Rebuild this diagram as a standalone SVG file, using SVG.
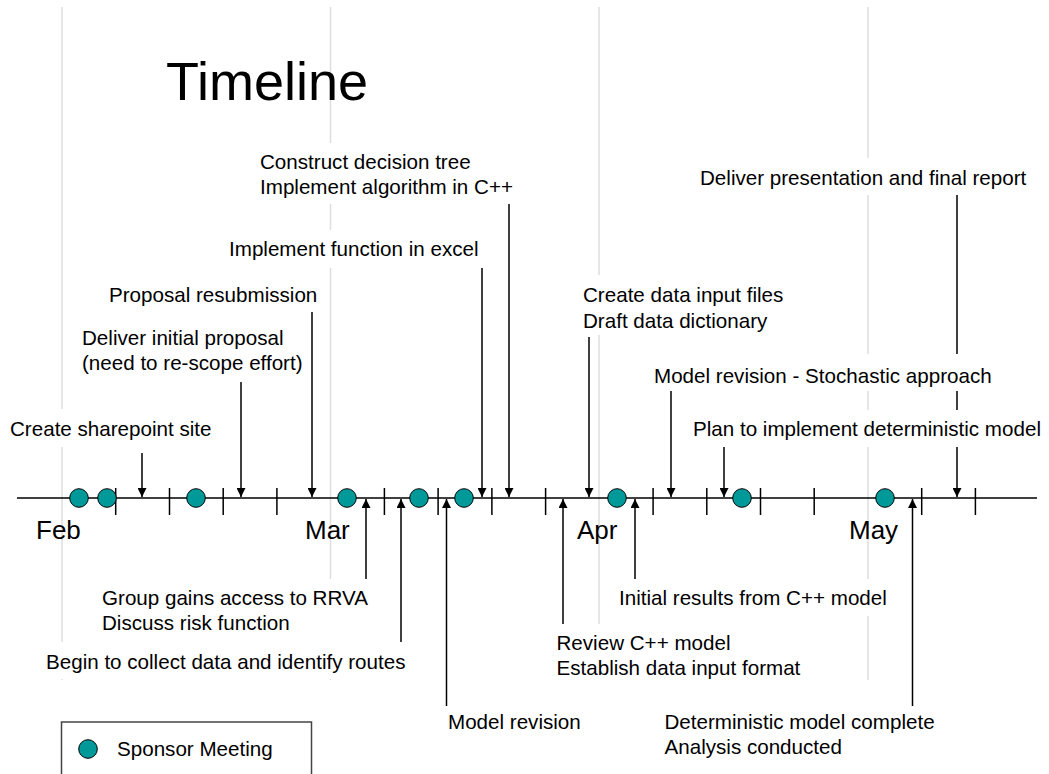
<svg xmlns="http://www.w3.org/2000/svg" width="1049" height="774" viewBox="0 0 1049 774">
<defs>
<style>
text{font-family:"Liberation Sans",Arial,sans-serif;fill:#000}
.lbl{font-size:20.6px}
.mon{font-size:26px}
.title{font-size:54px}
.grid{stroke:#dedede;stroke-width:1.5}
.axis{stroke:#000;stroke-width:1.5;fill:none}
.tick{stroke:#000;stroke-width:1.5}
.arr{stroke:#000;stroke-width:1.5;fill:none}
.dn{marker-end:url(#ah)}
.up{marker-end:url(#ah)}
.box{fill:#fff;stroke:none}
.mtg{fill:#009999;stroke:#000;stroke-width:1}
</style>
<marker id="ah" viewBox="0 0 10 10" refX="10" refY="5" markerWidth="6" markerHeight="6" orient="auto" markerUnits="strokeWidth">
<path d="M0,0 L10,5 L0,10 z" fill="#000"/>
</marker>
</defs>
<rect width="1049" height="774" fill="#fff"/>
<g id="gridlines">
<line class="grid" x1="62" y1="7" x2="62" y2="680"/>
<line class="grid" x1="330.5" y1="7" x2="330.5" y2="680"/>
<line class="grid" x1="599" y1="7" x2="599" y2="680"/>
<line class="grid" x1="868" y1="7" x2="868" y2="680"/>
</g>
<g id="title"><text class="title" x="166" y="100">Timeline</text></g>
<g id="connectors">
<line class="axis" x1="17" y1="498" x2="1037" y2="498"/>
<g id="ticks">
<line class="tick" x1="115.7" y1="488" x2="115.7" y2="515"/>
<line class="tick" x1="169.5" y1="488" x2="169.5" y2="515"/>
<line class="tick" x1="223.2" y1="488" x2="223.2" y2="515"/>
<line class="tick" x1="276.9" y1="488" x2="276.9" y2="515"/>
<line class="tick" x1="384.4" y1="488" x2="384.4" y2="515"/>
<line class="tick" x1="438.1" y1="488" x2="438.1" y2="515"/>
<line class="tick" x1="491.9" y1="488" x2="491.9" y2="515"/>
<line class="tick" x1="545.6" y1="488" x2="545.6" y2="515"/>
<line class="tick" x1="653.1" y1="488" x2="653.1" y2="515"/>
<line class="tick" x1="706.8" y1="488" x2="706.8" y2="515"/>
<line class="tick" x1="760.5" y1="488" x2="760.5" y2="515"/>
<line class="tick" x1="814.2" y1="488" x2="814.2" y2="515"/>
<line class="tick" x1="921.7" y1="488" x2="921.7" y2="515"/>
<line class="tick" x1="975.4" y1="488" x2="975.4" y2="515"/>
</g>
<line class="arr dn" x1="142" y1="453" x2="142" y2="497"/>
<line class="arr dn" x1="241" y1="382" x2="241" y2="497"/>
<line class="arr dn" x1="312" y1="312" x2="312" y2="497"/>
<line class="arr dn" x1="482" y1="268" x2="482" y2="497"/>
<line class="arr dn" x1="509" y1="204" x2="509" y2="497"/>
<line class="arr dn" x1="589" y1="337" x2="589" y2="497"/>
<line class="arr dn" x1="671" y1="391" x2="671" y2="497"/>
<line class="arr dn" x1="724" y1="447" x2="724" y2="497"/>
<line class="arr dn" x1="957" y1="195" x2="957" y2="497"/>
<line class="arr up" x1="366" y1="579" x2="366" y2="499"/>
<line class="arr up" x1="401" y1="643" x2="401" y2="499"/>
<line class="arr up" x1="446.5" y1="706" x2="446.5" y2="499"/>
<line class="arr up" x1="563" y1="624" x2="563" y2="499"/>
<line class="arr up" x1="635" y1="579" x2="635" y2="499"/>
<line class="arr up" x1="912.5" y1="706" x2="912.5" y2="499"/>
</g>
<g id="meetings">
<circle class="mtg" cx="79" cy="498" r="9.3"/>
<circle class="mtg" cx="107" cy="498" r="9.3"/>
<circle class="mtg" cx="196" cy="498" r="9.3"/>
<circle class="mtg" cx="347" cy="498" r="9.3"/>
<circle class="mtg" cx="419" cy="498" r="9.3"/>
<circle class="mtg" cx="464" cy="498" r="9.3"/>
<circle class="mtg" cx="617" cy="498" r="9.3"/>
<circle class="mtg" cx="742" cy="498" r="9.3"/>
<circle class="mtg" cx="885" cy="498" r="9.3"/>
</g>
<g id="months">
<text class="mon" x="36" y="539">Feb</text>
<text class="mon" x="305" y="539">Mar</text>
<text class="mon" x="577" y="539">Apr</text>
<text class="mon" x="849" y="539">May</text>
</g>
<g id="n-sharepoint"><rect class="box" x="5" y="409" width="210" height="38"/><text class="lbl" x="10" y="436">Create sharepoint site</text></g>
<g id="n-initial"><rect class="box" x="78" y="318" width="228" height="62"/><text class="lbl" x="82" y="345">Deliver initial proposal</text><text class="lbl" x="82" y="370">(need to re-scope effort)</text></g>
<g id="n-resub"><rect class="box" x="105" y="275" width="214" height="37"/><text class="lbl" x="109" y="302">Proposal resubmission</text></g>
<g id="n-excel"><rect class="box" x="226" y="230" width="255" height="38"/><text class="lbl" x="229" y="256">Implement function in excel</text></g>
<g id="n-tree"><rect class="box" x="255" y="143" width="265" height="61"/><text class="lbl" x="260" y="168.5">Construct decision tree</text><text class="lbl" x="260" y="194">Implement algorithm in C++</text></g>
<g id="n-datafiles"><rect class="box" x="578" y="275" width="212" height="60"/><text class="lbl" x="583" y="302">Create data input files</text><text class="lbl" x="583" y="327.5">Draft data dictionary</text></g>
<g id="n-stochastic"><rect class="box" x="650" y="354" width="350" height="37"/><text class="lbl" x="654" y="382.5">Model revision - Stochastic approach</text></g>
<g id="n-plan"><rect class="box" x="689" y="410" width="358" height="37"/><text class="lbl" x="693" y="436">Plan to implement deterministic model</text></g>
<g id="n-final"><rect class="box" x="695" y="158" width="337" height="37"/><text class="lbl" x="700" y="184.6">Deliver presentation and final report</text></g>
<g id="n-rrva"><rect class="box" x="98" y="579" width="278" height="63"/><text class="lbl" x="102" y="604.5">Group gains access to RRVA</text><text class="lbl" x="102" y="630">Discuss risk function</text></g>
<g id="n-collect"><rect class="box" x="42" y="642" width="370" height="37"/><text class="lbl" x="46" y="668.5">Begin to collect data and identify routes</text></g>
<g id="n-revision"><text class="lbl" x="448" y="729">Model revision</text></g>
<g id="n-review"><rect class="box" x="552" y="624" width="253" height="60"/><text class="lbl" x="556.5" y="650">Review C++ model</text><text class="lbl" x="556.5" y="675">Establish data input format</text></g>
<g id="n-results"><rect class="box" x="615" y="579" width="280" height="37"/><text class="lbl" x="619" y="604.5">Initial results from C++ model</text></g>
<g id="n-deterministic"><text class="lbl" x="664.5" y="729">Deterministic model complete</text><text class="lbl" x="664.5" y="754">Analysis conducted</text></g>
<g id="legend">
<rect x="61.5" y="722" width="250" height="80" fill="#fff" stroke="#444" stroke-width="1.5"/>
<circle class="mtg" cx="88" cy="749" r="9.3"/>
<text class="lbl" x="117" y="756">Sponsor Meeting</text>
</g>
</svg>
